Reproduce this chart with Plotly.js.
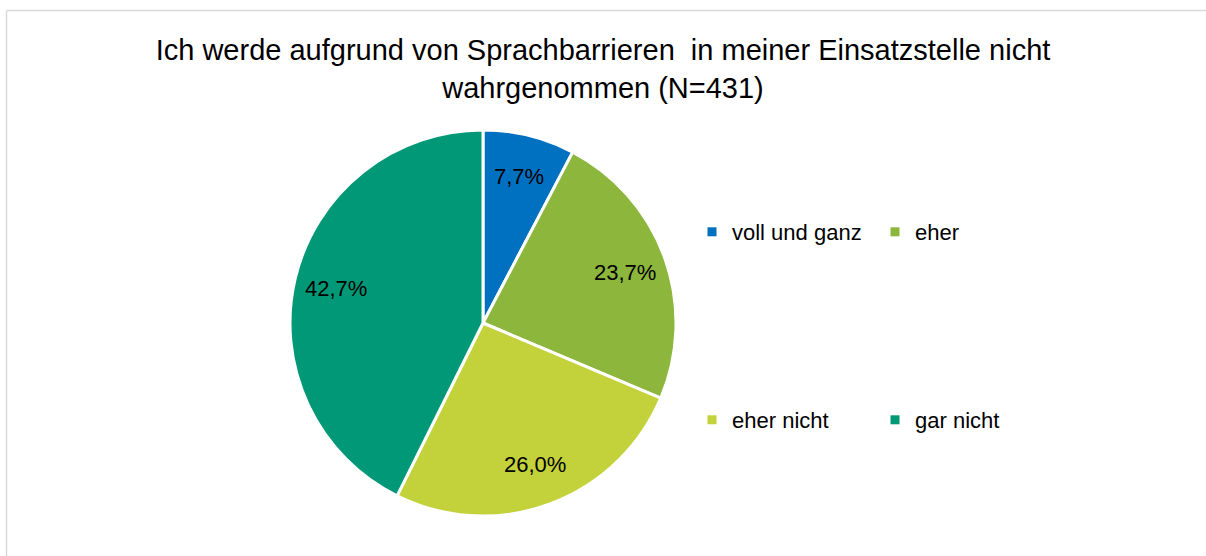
<!DOCTYPE html>
<html>
<head>
<meta charset="utf-8">
<script src="https://cdn.plot.ly/plotly-3.0.1.min.js"></script>
<style>
html,body{margin:0;padding:0;background:#fff;}
#chart{width:1206px;height:556px;}
</style>
</head>
<body>
<div id="chart"></div>
<script>
const categories = ["voll und ganz", "eher", "eher nicht", "gar nicht"];
const values = [7.7, 23.7, 26.0, 42.7];
const colors = ["#0070C0", "#8DB63C", "#C3D13B", "#009877"];
const titleText = "Ich werde aufgrund von Sprachbarrieren  in meiner Einsatzstelle nicht<br>wahrgenommen (N=431)";

const W = 1206, H = 556;
const cxPx = 483, cyPx = 323, Rpx = 193;
const FONT = "Liberation Sans, Arial, sans-serif";

const fmt = v => v.toFixed(1).replace('.', ',') + '%';

const pie = {
  type: 'pie',
  labels: categories,
  values: values,
  sort: false,
  direction: 'clockwise',
  rotation: 0,
  marker: {colors: colors, line: {color: '#ffffff', width: 3}},
  textinfo: 'none',
  hoverinfo: 'label+percent',
  showlegend: false,
  domain: {x: [(cxPx - Rpx) / W, (cxPx + Rpx) / W], y: [(H - cyPx - Rpx) / H, (H - cyPx + Rpx) / H]}
};

// legend-only traces
const legendTraces = categories.map((c, i) => ({
  type: 'scatter', mode: 'markers', x: [null], y: [null], name: c,
  marker: {symbol: 'square', size: 9, color: colors[i]},
  legend: i < 2 ? 'legend' : 'legend2',
  showlegend: true, hoverinfo: 'skip'
}));

// label annotations computed from the data
const total = values.reduce((a, b) => a + b, 0);
let cum = 0;
const annotations = values.map(v => {
  const mid = (cum + v / 2) / total * 2 * Math.PI;
  cum += v;
  const r = 0.78 * Rpx;
  return {
    xref: 'paper', yref: 'paper',
    x: (cxPx + r * Math.sin(mid)) / W,
    y: (H - cyPx + r * Math.cos(mid)) / H,
    text: fmt(v), showarrow: false,
    font: {family: FONT, size: 22, color: '#000'},
    xanchor: 'center', yanchor: 'middle'
  };
});

const legendCommon = {
  orientation: 'h', xanchor: 'left', yanchor: 'middle',
  entrywidth: 138, entrywidthmode: 'pixels',
  font: {family: FONT, size: 22, color: '#000'},
  bgcolor: 'rgba(0,0,0,0)', itemclick: false, itemdoubleclick: false,
  tracegroupgap: 0
};

const layout = {
  width: W, height: H,
  margin: {l: 0, r: 0, t: 0, b: 0},
  paper_bgcolor: '#ffffff', plot_bgcolor: '#ffffff',
  title: {
    text: titleText,
    font: {family: FONT, size: 29, color: '#000'},
    x: 0.5, xanchor: 'center', xref: 'paper',
    y: 1 - 60 / H, yanchor: 'middle', yref: 'container'
  },
  xaxis: {visible: false, range: [0, 1]},
  yaxis: {visible: false, range: [0, 1]},
  legend: Object.assign({}, legendCommon, {x: 692 / W, y: (H - 232) / H}),
  legend2: Object.assign({}, legendCommon, {x: 692 / W, y: (H - 420) / H}),
  annotations: annotations,
  shapes: [
    {type: 'line', xref: 'paper', yref: 'paper', x0: 6.5 / W, x1: 1, y0: 1 - 10.5 / H, y1: 1 - 10.5 / H, line: {color: '#D9D9D9', width: 1.5}},
    {type: 'line', xref: 'paper', yref: 'paper', x0: 6.5 / W, x1: 6.5 / W, y0: 0, y1: 1 - 10.5 / H, line: {color: '#D9D9D9', width: 1.5}}
  ]
};

Plotly.newPlot('chart', [pie].concat(legendTraces), layout, {displayModeBar: false, staticPlot: false});
</script>
</body>
</html>
